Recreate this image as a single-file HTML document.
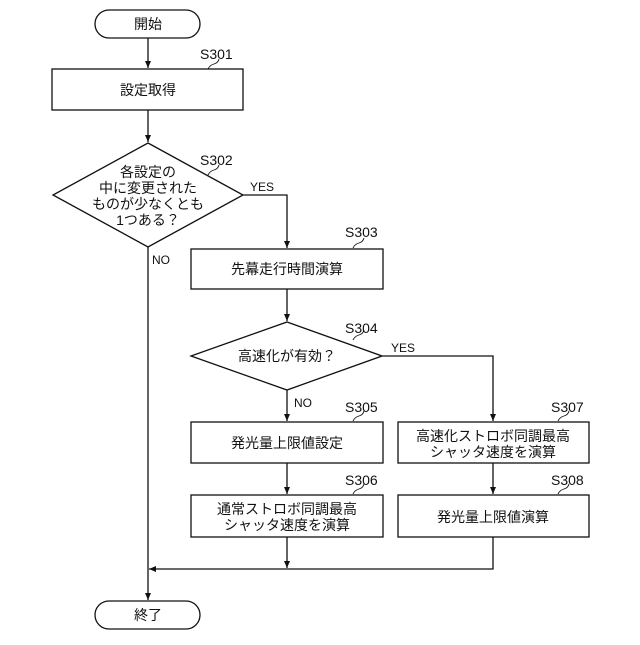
<!DOCTYPE html>
<html><head><meta charset="utf-8"><style>
html,body{margin:0;padding:0;background:#fff;}
svg text{font-family:"Liberation Sans","Noto Sans CJK JP",sans-serif;fill:#111;}
</style></head><body>
<svg width="640" height="640" viewBox="0 0 640 640" xmlns="http://www.w3.org/2000/svg">
<defs><marker id="a" markerWidth="8" markerHeight="8" refX="7" refY="4" orient="auto" markerUnits="userSpaceOnUse"><path d="M0,1 L7,4 L0,7 z" fill="#111"/></marker></defs>
<g stroke="#111" stroke-width="1.3" fill="none">
<rect x="95" y="10" width="105" height="28" rx="14"/>
<rect x="52" y="69" width="191" height="41"/>
<polygon points="148,143 243,195 148,247 53,195"/>
<rect x="191" y="249" width="192" height="40"/>
<polygon points="287,322 382,356 287,390 191,356"/>
<rect x="191" y="422" width="192" height="41"/>
<rect x="398" y="422" width="191" height="41"/>
<rect x="191" y="495" width="192" height="42"/>
<rect x="398" y="495" width="191" height="42"/>
<rect x="95" y="601" width="105" height="28" rx="14"/>
<line x1="148" y1="38" x2="148" y2="68" marker-end="url(#a)"/>
<line x1="148" y1="110" x2="148" y2="142" marker-end="url(#a)"/>
<polyline points="243,195 287,195 287,248" marker-end="url(#a)"/>
<line x1="287" y1="289" x2="287" y2="321" marker-end="url(#a)"/>
<line x1="287" y1="390" x2="287" y2="421" marker-end="url(#a)"/>
<polyline points="382,356 493,356 493,421" marker-end="url(#a)"/>
<line x1="287" y1="463" x2="287" y2="494" marker-end="url(#a)"/>
<line x1="493" y1="463" x2="493" y2="494" marker-end="url(#a)"/>
<line x1="287" y1="537" x2="287" y2="568" marker-end="url(#a)"/>
<polyline points="493,537 493,569 149,569" marker-end="url(#a)"/>
<line x1="148" y1="247" x2="148" y2="600" marker-end="url(#a)"/>
<path d="M208,69 q2,-4 6,-5 q4,-1 5,-5" stroke-width="0.9"/>
<path d="M208,175 q2,-4 6,-5 q4,-1 5,-5" stroke-width="0.9"/>
<path d="M353,248 q2,-4 6,-5 q4,-1 5,-5" stroke-width="0.9"/>
<path d="M353,340 q2,-4 6,-5 q4,-1 5,-5" stroke-width="0.9"/>
<path d="M353,421 q2,-4 6,-5 q4,-1 5,-5" stroke-width="0.9"/>
<path d="M353,494 q2,-4 6,-5 q4,-1 5,-5" stroke-width="0.9"/>
<path d="M558,421 q2,-4 6,-5 q4,-1 5,-5" stroke-width="0.9"/>
<path d="M558,494 q2,-4 6,-5 q4,-1 5,-5" stroke-width="0.9"/>
</g>
<g font-size="14" text-anchor="middle">
<text x="148" y="29">開始</text>
<text x="148" y="95">設定取得</text>
<text x="148" y="177">各設定の</text>
<text x="148" y="193">中に変更された</text>
<text x="148" y="209">ものが少なくとも</text>
<text x="148" y="225">1つある？</text>
<text x="287" y="274">先幕走行時間演算</text>
<text x="287" y="361">高速化が有効？</text>
<text x="287" y="448">発光量上限値設定</text>
<text x="493" y="441">高速化ストロボ同調最高</text>
<text x="493" y="457">シャッタ速度を演算</text>
<text x="287" y="514">通常ストロボ同調最高</text>
<text x="287" y="530">シャッタ速度を演算</text>
<text x="493" y="522">発光量上限値演算</text>
<text x="148" y="620">終了</text>
</g>
<g font-size="14">
<text x="200" y="59">S301</text>
<text x="200" y="165">S302</text>
<text x="345" y="237">S303</text>
<text x="345" y="333">S304</text>
<text x="345" y="412">S305</text>
<text x="345" y="485">S306</text>
<text x="551" y="412">S307</text>
<text x="551" y="485">S308</text>
</g>
<g font-size="12">
<text x="250" y="191">YES</text>
<text x="152" y="264">NO</text>
<text x="391" y="352">YES</text>
<text x="294" y="407">NO</text>
</g>
</svg>
</body></html>
